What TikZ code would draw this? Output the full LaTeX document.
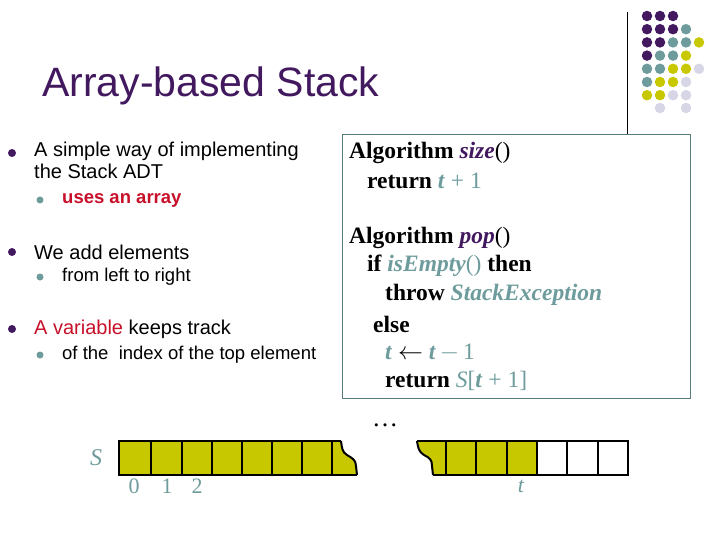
\documentclass[tikz,border=0pt]{standalone}
\usepackage{fontspec}
\setmainfont{Liberation Serif}
\newfontfamily\arial{Liberation Sans}
\definecolor{pur}{HTML}{42195F}
\definecolor{teal2}{HTML}{6E9C9C}
\definecolor{yel}{HTML}{C8C800}
\definecolor{lav}{HTML}{D6D6E6}
\definecolor{red2}{HTML}{C8102A}
\begin{document}
\begin{tikzpicture}[x=1pt,y=-1pt,
  dot/.style={circle,inner sep=0pt,minimum size=10.5pt},
  bul/.style={circle,fill=teal2,inner sep=0pt,minimum size=7pt},
  bigbul/.style={circle,fill=pur,inner sep=0pt,minimum size=8pt},
  txt/.style={anchor=west,inner sep=0pt,font=\arial\fontsize{20}{22}\selectfont,align=left},
  stxt/.style={anchor=west,inner sep=0pt,font=\arial\fontsize{18.5}{20}\selectfont},
  alg/.style={anchor=west,inner sep=0pt,font=\fontsize{23.5}{25}\selectfont\bfseries},
  cell/.style={draw=black,line width=2pt},
  idx/.style={inner sep=0pt,text=teal2,font=\fontsize{22}{24}\selectfont}]
\useasboundingbox (0,0) rectangle (720,540);
\fill[white] (0,0) rectangle (720,540);
% decoration
\draw[line width=1pt] (627,12) -- (627,135);
\foreach \r/\list in {0/{pur,pur,pur},1/{pur,pur,pur,teal2},2/{pur,pur,teal2,teal2,yel},3/{pur,teal2,teal2,yel},4/{teal2,teal2,yel,yel,lav},5/{teal2,yel,yel,lav},6/{yel,yel,lav,lav}}{
  \foreach \c [count=\i from 0] in \list {
    \node[dot,fill=\c] at (647+13*\i,16+13.2*\r) {};}}
\node[dot,fill=lav] at (660,108) {};
\node[dot,fill=lav] at (686,108) {};
% title
\node[anchor=west,inner sep=0pt,text=pur,font=\arial\fontsize{41}{44}\selectfont] (title) at (42,86) {Array-based Stack};
% bullets
\node[bigbul] (b1) at (12,153) {};
\node[txt,anchor=north west] (t1) at (34,142) {A simple way of implementing\\the Stack ADT};
\node[bul] (s1) at (40,200) {};
\node[stxt,text=red2,font=\arial\bfseries\fontsize{18.5}{20}\selectfont] (u1t) at (62,200) {uses an array};
\node[bigbul] (b2) at (12,252) {};
\node[txt] (t2) at (34,252) {We add elements};
\node[bul] (s2) at (40,277) {};
\node[stxt] (u2t) at (62,277) {from left to right};
\node[bigbul] (b3) at (12,329) {};
\node[txt] (t3) at (34,329) {\textcolor{red2}{A variable} keeps track};
\node[bul] (s3) at (40,355) {};
\node[stxt] (u3t) at (62,355) {of the\ \ index of the top element};
% algorithm box
\draw[draw=teal2!80!black,line width=1pt] (342,135) rectangle (690,398);
\node[alg] (a1) at (349,153) {Algorithm \textcolor{pur}{\textit{size}}\mdseries()};
\node[alg] (a2) at (367,181) {return \textcolor{teal2}{\textit{t} \mdseries + 1}};
\node[alg] (a3) at (349,238) {Algorithm \textcolor{pur}{\textit{pop}}\mdseries()};
\node[alg] (a4) at (367,266) {if \textcolor{teal2}{\textit{isEmpty}\mdseries()} then};
\node[alg] (a5) at (385,295) {throw \textcolor{teal2}{\textit{StackException}}};
\node[alg] (a6) at (373,324) {else};
\node[alg] (a7) at (385,353) {\textcolor{teal2}{\textit{t}} $\leftarrow$ \textcolor{teal2}{\textit{t}\mdseries\,$-$\,1}};
\node[alg] (a8) at (385,381) {return \textcolor{teal2}{\mdseries\textit{S}[\textbf{\textit{t}} + 1]}};
% array
\fill[yel] (119,441) -- (341,441) -- (343,452) -- (355,460) -- (357,475) -- (119,475) -- cycle;
\draw[cell] (341,441) -- (119,441) -- (119,475) -- (357,475);
\draw[line width=2pt,line join=round] (341,441) .. controls (342,448) and (342,452) .. (347,455) .. controls (352,458) and (356,460) .. (356,466) -- (357,475);
\foreach \x in {151,182,212,242,272,302,332} \draw[cell] (\x,441) -- (\x,475);
\fill[yel] (417,441) -- (537,441) -- (537,475) -- (433,475) -- (432,462) -- (421,452) -- cycle;
\draw[cell] (417,441) -- (628,441) -- (628,475) -- (433,475);
\draw[line width=2pt,line join=round] (417,441) .. controls (418,448) and (419,452) .. (424,455) .. controls (430,458) and (432,460) .. (432,466) -- (433,475);
\foreach \x in {446,476,507,537,567,598} \draw[cell] (\x,441) -- (\x,475);
\node[inner sep=0pt,font=\fontsize{26}{28}\selectfont] (dots) at (385,425) {\dots};
\node[idx,font=\fontsize{24}{26}\selectfont\itshape] (S) at (96,458) {S};
\node[idx] (i0) at (134,486) {0};
\node[idx] (i1) at (167,486) {1};
\node[idx] (i2) at (197,486) {2};
\node[idx,font=\fontsize{22}{24}\selectfont\itshape] (it) at (521,486) {t};
\end{tikzpicture}
\end{document}
